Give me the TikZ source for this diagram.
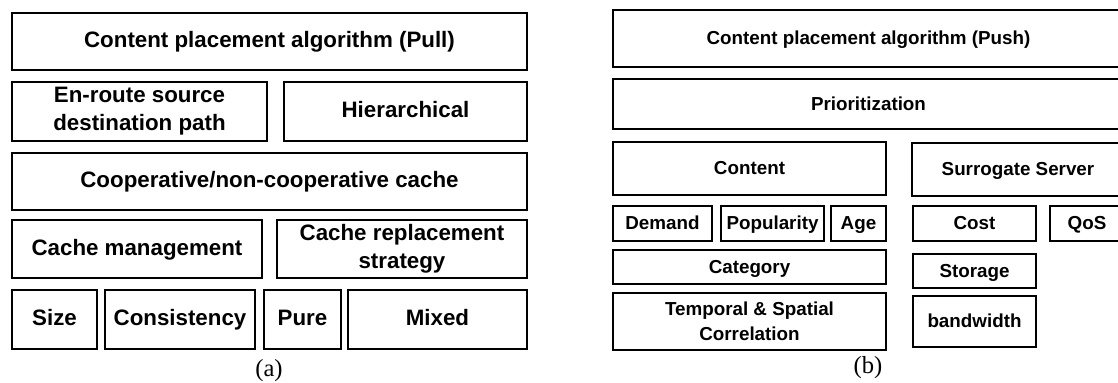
\documentclass[tikz,border=0pt]{standalone}
\usepackage{fontspec}
\setmainfont{Liberation Serif}
\setsansfont{Liberation Sans}
\usepackage{tikz}

\begin{document}
\begin{tikzpicture}[
    pullbox/.style={rectangle, draw=black, line width=1.4pt, fill=white, align=center, inner sep=1pt,
        text height=1.5ex, text depth=0pt, font=\sffamily\bfseries\fontsize{12.7}{16}\selectfont},
    pushbox/.style={pullbox, font=\sffamily\bfseries\fontsize{10.7}{14}\selectfont},
    twoline/.style={text height={}, text depth={}},
    sublabel/.style={font=\fontsize{14}{16}\selectfont},
]

\useasboundingbox (0,0) rectangle (22.36,7.64);
\clip (0,0) rectangle (22.36,7.64);

% Pull placement
\node[pullbox, minimum width=10.30cm, minimum height=1.14cm] (pull) at (5.39,6.81) {Content placement algorithm (Pull)};
\node[pullbox, twoline, minimum width=5.10cm, minimum height=1.18cm] (enroute) at (2.79,5.41) {En-route source\\destination path};
\node[pullbox, minimum width=4.86cm, minimum height=1.18cm] (hier) at (8.11,5.41) {Hierarchical};
\node[pullbox, minimum width=10.30cm, minimum height=1.14cm] (coop) at (5.39,4.01) {Cooperative/non-cooperative cache};
\node[pullbox, minimum width=5.00cm, minimum height=1.16cm] (cachemgmt) at (2.74,2.66) {Cache management};
\node[pullbox, twoline, minimum width=5.00cm, minimum height=1.16cm] (cacherepl) at (8.04,2.66) {Cache replacement\\strategy};
\node[pullbox, minimum width=1.70cm, minimum height=1.18cm] (size) at (1.09,1.25) {Size};
\node[pullbox, minimum width=3.00cm, minimum height=1.18cm] (consist) at (3.60,1.25) {Consistency};
\node[pullbox, minimum width=1.54cm, minimum height=1.18cm] (pure) at (6.05,1.25) {Pure};
\node[pullbox, minimum width=3.58cm, minimum height=1.18cm] (mixed) at (8.75,1.25) {Mixed};
\node[sublabel] (capA) at (5.38,0.22) {(a)};

% Push placement
\node[pushbox, minimum width=10.22cm, minimum height=1.14cm] (push) at (17.37,6.87) {Content placement algorithm (Push)};
\node[pushbox, minimum width=10.22cm, minimum height=1.00cm] (prio) at (17.37,5.56) {Prioritization};

% content criteria
\node[pushbox, minimum width=5.46cm, minimum height=1.06cm] (content) at (14.99,4.27) {Content};
\node[pushbox, minimum width=1.98cm, minimum height=0.70cm] (demand) at (13.25,3.17) {Demand};
\node[pushbox, minimum width=2.06cm, minimum height=0.70cm] (popularity) at (15.45,3.17) {Popularity};
\node[pushbox, minimum width=1.10cm, minimum height=0.70cm] (age) at (17.17,3.17) {Age};
\node[pushbox, minimum width=5.46cm, minimum height=0.68cm] (category) at (14.99,2.30) {Category};
\node[pushbox, twoline, minimum width=5.46cm, minimum height=1.14cm] (temporal) at (14.99,1.21) {Temporal \& Spatial\\Correlation};

% server criteria
\node[pushbox, minimum width=4.24cm, minimum height=1.06cm] (surrogate) at (20.36,4.25) {Surrogate Server};
\node[pushbox, minimum width=2.46cm, minimum height=0.70cm] (cost) at (19.49,3.17) {Cost};
\node[pushbox, minimum width=1.48cm, minimum height=0.70cm] (qos) at (21.74,3.17) {QoS};
\node[pushbox, minimum width=2.46cm, minimum height=0.68cm] (storage) at (19.49,2.22) {Storage};
\node[pushbox, minimum width=2.46cm, minimum height=1.02cm] (bandwidth) at (19.49,1.21) {bandwidth};
\node[sublabel] (capB) at (17.36,0.28) {(b)};

\end{tikzpicture}
\end{document}
